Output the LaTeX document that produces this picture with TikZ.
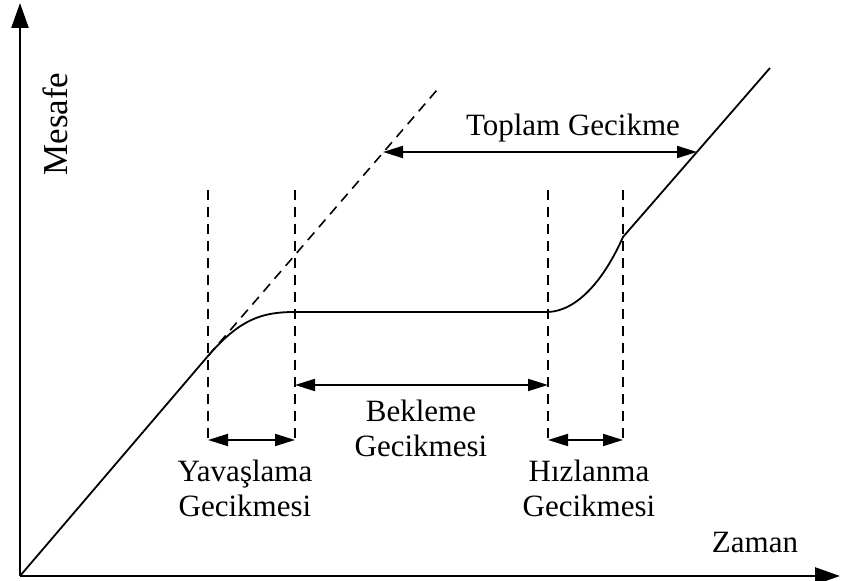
\documentclass[tikz,border=0pt]{standalone}
\usepackage{fontspec}
\setmainfont{Liberation Serif}
\usetikzlibrary{arrows.meta}

\begin{document}
\begin{tikzpicture}[x=0.5pt,y=-0.5pt,
  eksen/.style={line width=1.2pt,-{Triangle[length=12.5pt,width=8.5pt]}},
  egri/.style={line width=0.9pt},
  kesik/.style={line width=0.8pt,dash pattern=on 5pt off 3.5pt},
  olcu/.style={line width=1pt,{Triangle[length=10pt,width=6pt]}-{Triangle[length=10pt,width=6pt]}},
  yazi/.style={font=\fontsize{15.5}{17.5}\selectfont,align=center,inner sep=0pt}]
  \useasboundingbox (0,0) rectangle (843,581);
  % eksenler
  \coordinate (O) at (20,576);
  \coordinate (ytop) at (20,3);
  \coordinate (xend) at (840,576);
  \draw[eksen] (O) -- (ytop);
  \draw[eksen] (O) -- (xend);
  \node[yazi,rotate=90,font=\fontsize{17.5}{20}\selectfont] (mesafe) at (55,124) {Mesafe};
  \node[yazi] (zaman) at (755,543) {Zaman};
  % mesafe-zaman egrisi
  \coordinate (A) at (208,356);
  \coordinate (B) at (295,312);
  \coordinate (C) at (548,312);
  \coordinate (D) at (623,237);
  \coordinate (E) at (770,68);
  \coordinate (F) at (437,90);
  \draw[egri] (O) -- (A) .. controls (240,319) and (262,312) .. (B) -- (C)
    .. controls (577,311) and (604,280) .. (D) -- (E);
  \draw[kesik] (A) -- (F);
  % dikey kesikli cizgiler
  \foreach \x [count=\i] in {208,295,548,623}{
    \coordinate (v\i u) at (\x,190);
    \coordinate (v\i a) at (\x,440);
    \draw[kesik] (v\i u) -- (v\i a);
  }
  % gecikme oklari
  \draw[olcu] (v1a) -- (v2a);
  \draw[olcu] (v3a) -- (v4a);
  \coordinate (b1) at (295,385);
  \coordinate (b2) at (548,385);
  \draw[olcu] (b1) -- (b2);
  \coordinate (t1) at (383,152);
  \coordinate (t2) at (697,152);
  \draw[olcu] (t1) -- (t2);
  \node[yazi] (yavas) at (245,488) {Yavaşlama\\Gecikmesi};
  \node[yazi] (bekleme) at (421,428) {Bekleme\\Gecikmesi};
  \node[yazi] (hizlan) at (589,488) {Hızlanma\\Gecikmesi};
  \node[yazi] (toplam) at (573,128) {Toplam Gecikme};
\end{tikzpicture}
\end{document}
